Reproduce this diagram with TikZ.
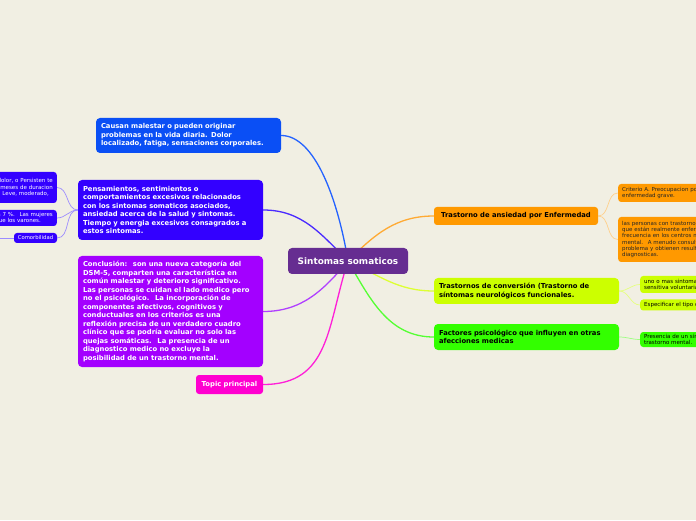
\documentclass[tikz,border=0pt]{standalone}
\usepackage{fontspec}
\setmainfont{DejaVu Sans}
\usetikzlibrary{calc}
\pgfdeclarelayer{bg}
\pgfdeclarelayer{back}
\pgfsetlayers{back,bg,main}
\definecolor{bgc}{HTML}{F1EFE3}
\definecolor{cmain}{HTML}{662D91}
\definecolor{cblue}{HTML}{0A4FF5}
\definecolor{cindigo}{HTML}{3300FF}
\definecolor{cpurple}{HTML}{A300FF}
\definecolor{cmag}{HTML}{FF00D0}
\definecolor{corange}{HTML}{FF9900}
\definecolor{cyellow}{HTML}{CCFF00}
\definecolor{cgreen}{HTML}{33FF00}
\definecolor{lblue}{HTML}{2462FF}
\definecolor{lindigo}{HTML}{4A2AFF}
\definecolor{lpurple}{HTML}{B040FF}
\definecolor{lmag}{HTML}{FF20D8}
\definecolor{lorange}{HTML}{FFAA33}
\definecolor{lyellow}{HTML}{DDFF33}
\definecolor{lgreen}{HTML}{55FF33}
\definecolor{sorange}{HTML}{FFD08A}
\definecolor{syellow}{HTML}{E5FF80}
\definecolor{sgreen}{HTML}{9CFF80}
\definecolor{sindigo}{HTML}{9C8CFF}
\begin{document}
\begin{tikzpicture}[x=1pt,y=1pt,
  topic/.style={rounded corners=4pt, inner xsep=5pt, inner ysep=0pt, align=left,
    text width=175pt, minimum width=185pt,
    font=\bfseries\fontsize{6.8}{8.5}\selectfont},
  subtopic/.style={rounded corners=3pt, inner xsep=4pt, inner ysep=0pt, align=left,
    text width=200pt, anchor=west, text=black!85,
    font=\fontsize{5.5}{6.2}\selectfont},
  leftsub/.style={rounded corners=3pt, inner xsep=4pt, inner ysep=0pt, align=right,
    text width=260pt, anchor=east, fill=cindigo, text=white,
    font=\fontsize{5.5}{6.2}\selectfont},
  mainline/.style={line width=1.3pt, line cap=round},
  subline/.style={line width=0.7pt},
]
\useasboundingbox (0,0) rectangle (696,520);
\clip (0,0) rectangle (696,520);
\begin{pgfonlayer}{back}
\fill[bgc] (0,0) rectangle (696,520);
\end{pgfonlayer}

% central topic
\node[fill=cmain, text=white, rounded corners=4pt, minimum width=120pt, minimum height=26pt,
  inner sep=0pt, font=\bfseries\fontsize{8.9}{10}\selectfont] (main) at (348,259) {Sintomas somaticos};

% left main topics
\node[topic, fill=cblue, text=white, minimum height=35pt] (blue) at (188.5,384.5)
  {Causan malestar o pueden originar\\problemas en la vida diaria. Dolor\\localizado, fatiga, sensaciones corporales.};
\node[topic, fill=cindigo, text=white, minimum height=60pt] (indigo) at (170.5,310)
  {Pensamientos, sentimientos o\\comportamientos excesivos relacionados\\con los sintomas somaticos asociados,\\ansiedad acerca de la salud y sintomas.\\Tiempo y energia excesivos consagrados a\\estos sintomas.};
\node[topic, fill=cpurple, text=white, minimum height=111pt] (purple) at (170.5,208.5)
  {Conclusión:~ son una nueva categoría del\\DSM-5, comparten una característica en\\común malestar y deterioro significativo.\\Las personas se cuidan el lado medico pero\\no el psicológico.~ La incorporación de\\componentes afectivos, cognitivos y\\conductuales en los criterios es una\\reflexión precisa de un verdadero cuadro\\clínico que se podría evaluar no solo las\\quejas somáticas.~ La presencia de un\\diagnostico medico no excluye la\\posibilidad de un trastorno mental.};
\node[fill=cmag, text=white, rounded corners=3pt, minimum width=67pt, minimum height=19pt,
  inner sep=0pt, font=\bfseries\fontsize{6.8}{8.5}\selectfont] (mag) at (229.5,135.5) {Topic principal};

% right main topics
\node[fill=corange, text=black, rounded corners=3pt, minimum width=164pt, minimum height=18pt,
  inner sep=0pt, font=\bfseries\fontsize{6.8}{8.5}\selectfont] (orange) at (516,304)
  {Trastorno de ansiedad por Enfermedad};
\node[topic, fill=cyellow, text=black, minimum height=26pt] (yellow) at (526.5,229)
  {Trastornos de conversión (Trastorno de\\síntomas neurológicos funcionales.};
\node[topic, fill=cgreen, text=black, minimum height=26pt] (green) at (526.5,183)
  {Factores psicológico que influyen en otras\\afecciones medicas};

% right sub topics
\node[subtopic, fill=corange, minimum height=18pt] (os1) at (618,327)
  {Criterio A. Preocupacion por padecer o contraer una\\enfermedad grave.};
\node[subtopic, fill=corange, minimum height=45pt] (os2) at (618,280.5)
  {las personas con trastorno de ansiedad por enfermedad\\que están realmente enfermas, acuden con mucha\\frecuencia en los centros médicos y no de salud\\mental.~ A menudo consultan a varios médicos por el\\problema y obtienen resultados negativos en pruebas\\diagnosticas.};
\node[subtopic, fill=cyellow, text=black, minimum height=17pt] (ys1) at (640,235.5)
  {uno o mas sintomas de alteración de la función motora o\\sensitiva voluntaria.};
\node[subtopic, fill=cyellow, text=black, minimum height=11pt] (ys2) at (640,215)
  {Especificar el tipo de síntoma.};
\node[subtopic, fill=cgreen, text=black, minimum height=15pt] (gs1) at (640,180.5)
  {Presencia de un síntoma o afección médica (que no sea un\\trastorno mental.};

% left sub topics
\node[leftsub, minimum height=31pt] (la) at (57,332.5)
  {Uno o más síntomas somáticos que causan malestar o dolor, o Persisten te\hspace*{7pt}\\por más de seis meses de duracion\hspace*{31pt}\\Especificar la gravedad actual: Leve, moderado,\hspace*{4pt}};
\node[leftsub, minimum height=16pt] (lb) at (57,302)
  {La prevalencia es de 5 a 7 \%.~ Las mujeres\hspace*{4pt}\\lo padecen más que los varones.\hspace*{12pt}};
\node[fill=cindigo, text=white, rounded corners=3pt, minimum width=43pt, minimum height=10pt,
  inner sep=0pt, font=\fontsize{5.3}{6.2}\selectfont] (lc) at (35.5,282) {Comorbilidad};
\coordinate (lcx) at (-5,282);

\begin{pgfonlayer}{bg}
  \draw[mainline, lblue] (main.center) .. controls (338,320) and (315,384.5) .. (blue.east);
  \draw[mainline, lindigo] (main.center) to[out=135,in=0] (indigo.east);
  \draw[mainline, lpurple] (main.center) to[out=-130,in=0] (purple.east);
  \draw[mainline, lmag] (main.center) to[out=-108,in=0,looseness=1.15] (mag.east);
  \draw[mainline, lorange] (main.center) to[out=45,in=180] (orange.west);
  \draw[mainline, lyellow] (main.center) to[out=-25,in=180] (yellow.west);
  \draw[mainline, lgreen] (main.center) to[out=-60,in=180] (green.west);

  \draw[subline, sorange] (orange.east) to[out=0,in=180] (os1.west);
  \draw[subline, sorange] (orange.east) to[out=0,in=180] (os2.west);
  \draw[subline, syellow] (yellow.east) to[out=0,in=180] (ys1.west);
  \draw[subline, syellow] (yellow.east) to[out=0,in=180] (ys2.west);
  \draw[subline, sgreen] (green.east) to[out=0,in=180] (gs1.west);
  \draw[subline, sindigo] (indigo.west) to[out=180,in=0] (la.east);
  \draw[subline, sindigo] (indigo.west) to[out=180,in=0] (lb.east);
  \draw[subline, sindigo] (indigo.west) to[out=180,in=0] (lc.east);
  \draw[subline, sindigo] (lc.west) -- (lcx);
\end{pgfonlayer}
\end{tikzpicture}
\end{document}
